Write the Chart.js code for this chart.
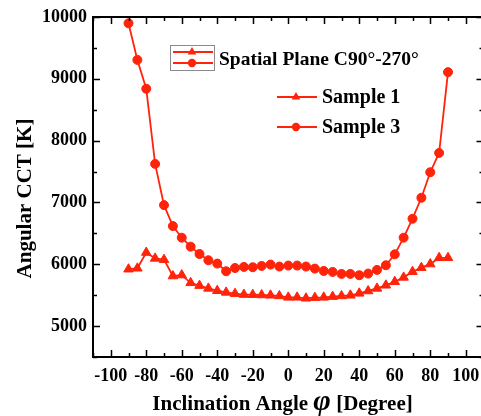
<!DOCTYPE html>
<html><head><meta charset="utf-8">
<script src="https://cdn.jsdelivr.net/npm/chart.js@4"></script>
<style>html,body{margin:0;padding:0;background:#fff;overflow:hidden}
#wrap{width:481px;height:416px;overflow:hidden;position:relative;background:#fff}
#c{position:absolute;left:0;top:0}</style></head>
<body><div id="wrap"><canvas id="c" width="490" height="416"></canvas></div>
<script>
const angles=[-90,-85,-80,-75,-70,-65,-60,-55,-50,-45,-40,-35,-30,-25,-20,-15,-10,-5,0,5,10,15,20,25,30,35,40,45,50,55,60,65,70,75,80,85,90];
const sample1=[5920,5935,6190,6095,6075,5810,5825,5700,5655,5610,5572,5545,5525,5510,5508,5503,5498,5488,5465,5465,5450,5460,5465,5477,5488,5498,5530,5568,5610,5660,5718,5788,5880,5945,6003,6105,6105];
const sample3=[9898,9306,8839,7624,6957,6618,6430,6285,6166,6065,6011,5887,5940,5957,5952,5973,5995,5963,5979,5979,5963,5930,5892,5876,5844,5844,5823,5849,5909,5984,6161,6430,6737,7076,7489,7801,9108];
const xTickValues=[-100,-80,-60,-40,-20,0,20,40,60,80,100];
const yTickValues=[5000,6000,7000,8000,9000,10000];
const legendTitle='Spatial Plane C90°-270°';
const seriesNames=['Sample 1','Sample 3'];
const xTitleParts=['Inclination Angle ','φ',' [Degree]'];
const yTitle='Angular CCT [K]';

const RED='rgb(255,35,10)';
const FONT='"Liberation Serif","Times New Roman",serif';

function tri(ctx,x,y,r){
  ctx.beginPath();
  for(let k=0;k<3;k++){
    const a=k*2*Math.PI/3;
    const px=x+Math.sin(a)*r, py=y-Math.cos(a)*r;
    if(k===0)ctx.moveTo(px,py);else ctx.lineTo(px,py);
  }
  ctx.closePath();ctx.fill();
}
function dot(ctx,x,y,r){ctx.beginPath();ctx.arc(x,y,r,0,Math.PI*2);ctx.fill();}

const deco={
  id:'deco',
  afterDraw(chart){
    const ctx=chart.ctx, a=chart.chartArea, xs=chart.scales.x, ys=chart.scales.y;
    ctx.save();
    // frame
    ctx.strokeStyle='#000';ctx.lineWidth=2;
    ctx.strokeRect(a.left,a.top,a.right-a.left,a.bottom-a.top);
    // inner ticks
    ctx.lineWidth=1.5;
    ctx.beginPath();
    for(let v=-110;v<=110;v+=10){
      const px=Math.round(xs.getPixelForValue(v))+0.5;
      const L=(v%20===0)?7:4;
      ctx.moveTo(px,a.bottom);ctx.lineTo(px,a.bottom-L);
      ctx.moveTo(px,a.top);ctx.lineTo(px,a.top+L);
    }
    for(let v=4500;v<=10000;v+=500){
      const py=Math.round(ys.getPixelForValue(v))+0.5;
      const L=(v%1000===0)?7:4;
      ctx.moveTo(a.left,py);ctx.lineTo(a.left+L,py);
      ctx.moveTo(a.right,py);ctx.lineTo(a.right-L,py);
    }
    ctx.stroke();
    // legend
    ctx.strokeStyle='#8a8a8a';ctx.lineWidth=1;
    ctx.strokeRect(170.5,45.5,44,25);
    ctx.strokeStyle=RED;ctx.fillStyle=RED;ctx.lineWidth=2;
    ctx.beginPath();ctx.moveTo(173,52);ctx.lineTo(213,52);ctx.moveTo(173,63);ctx.lineTo(213,63);
    ctx.moveTo(277,97);ctx.lineTo(317,97);ctx.moveTo(277,127);ctx.lineTo(317,127);ctx.stroke();
    tri(ctx,192,52,5);dot(ctx,192,63,4.2);
    tri(ctx,296,97,5);dot(ctx,296,127,4.2);
    ctx.fillStyle='#000';ctx.textBaseline='alphabetic';ctx.textAlign='left';
    ctx.font='bold 19.5px '+FONT;
    ctx.fillText(legendTitle,219,65);
    ctx.font='bold 20px '+FONT;
    ctx.fillText(seriesNames[0],322,103);
    ctx.fillText(seriesNames[1],322,133);
    // y title
    ctx.save();
    ctx.translate(31,198.5);ctx.rotate(-Math.PI/2);
    ctx.font='bold 21px '+FONT;ctx.textAlign='center';
    ctx.fillText(yTitle,0,0);
    ctx.restore();
    // x title
    const f1='bold 21px '+FONT, f2='bold italic 30px '+FONT;
    ctx.font=f1;const w1=ctx.measureText(xTitleParts[0]).width, w3=ctx.measureText(xTitleParts[2]).width;
    ctx.font=f2;const w2=ctx.measureText(xTitleParts[1]).width;
    let x0=282.5-(w1+w2+w3)/2;
    ctx.font=f1;ctx.fillText(xTitleParts[0],x0,410);
    ctx.font=f2;ctx.fillText(xTitleParts[1],x0+w1,410);
    ctx.font=f1;ctx.fillText(xTitleParts[2],x0+w1+w2,410);
    ctx.restore();
  }
};

const tickFont={family:FONT,size:18,weight:'bold'};
new Chart(document.getElementById('c'),{
  type:'line',
  data:{datasets:[
    {label:seriesNames[0],data:angles.map((a,i)=>({x:a,y:sample1[i]})),borderColor:RED,backgroundColor:RED,borderWidth:1.8,pointStyle:'triangle',pointRadius:5.5,pointBorderWidth:1,tension:0},
    {label:seriesNames[1],data:angles.map((a,i)=>({x:a,y:sample3[i]})),borderColor:RED,backgroundColor:RED,borderWidth:1.8,pointStyle:'circle',pointRadius:4.5,pointBorderWidth:1,tension:0}
  ]},
  options:{
    responsive:false,animation:false,devicePixelRatio:1,
    layout:{padding:{top:17,right:6,left:0,bottom:0}},
    plugins:{legend:{display:false},tooltip:{enabled:false}},
    scales:{
      x:{type:'linear',position:'bottom',min:-110,max:110,
        grid:{display:false,drawTicks:false},border:{display:false},
        ticks:{font:tickFont,color:'#000',padding:9,maxRotation:0,autoSkip:false,callback:v=>String(v)},
        afterBuildTicks:s=>{s.ticks=xTickValues.map(v=>({value:v}));},
        afterFit:s=>{s.height=59;}},
      y:{type:'linear',position:'left',min:4500,max:10000,
        grid:{display:false,drawTicks:false},border:{display:false},
        ticks:{font:tickFont,color:'#000',padding:6,autoSkip:false,callback:v=>String(v)},
        afterBuildTicks:s=>{s.ticks=yTickValues.map(v=>({value:v}));},
        afterFit:s=>{s.width=93;}}
    }
  },
  plugins:[deco]
});
</script></body></html>
